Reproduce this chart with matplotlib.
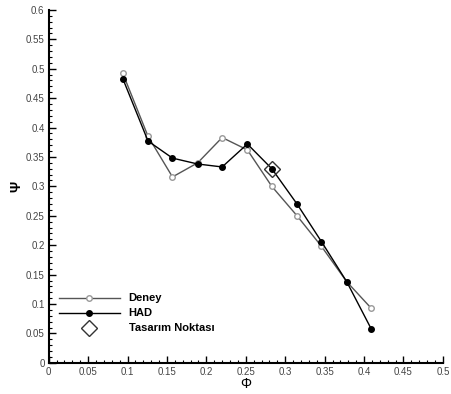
import matplotlib
matplotlib.use("Agg")
import matplotlib.pyplot as plt
from matplotlib.ticker import MultipleLocator

plt.rcParams['font.family'] = ['Liberation Sans', 'DejaVu Sans']

# debi katsayisi (Phi)
phi = [0.094, 0.126, 0.157, 0.189, 0.220, 0.252, 0.283, 0.315, 0.346, 0.378, 0.409]
# basma katsayisi (Psi)
psi_deney = [0.492, 0.385, 0.316, 0.340, 0.383, 0.362, 0.300, 0.250, 0.198, 0.138, 0.093]
psi_had = [0.483, 0.377, 0.348, 0.338, 0.333, 0.372, 0.330, 0.270, 0.206, 0.138, 0.058]
tasarim_phi = [0.283]
tasarim_psi = [0.330]

fig = plt.figure(figsize=(4.51, 3.94), dpi=100)
ax = fig.add_axes([0.108, 0.079, 0.874, 0.896])

ax.plot(phi, psi_deney, color="#555555", lw=1.0, marker="o", ms=4,
        mfc="white", mec="#999999", label="Deney")
ax.plot(phi, psi_had, color="black", lw=1.0, marker="o", ms=4,
        mfc="black", mec="black", label="HAD")
ax.plot(tasarim_phi, tasarim_psi, ls="none", marker="D", ms=8,
        mfc="none", mec="#333333", mew=1.0, label="Tasarım Noktası")

ax.set_xlim(0, 0.5)
ax.set_ylim(0, 0.6)
ax.xaxis.set_major_locator(MultipleLocator(0.05))
ax.xaxis.set_minor_locator(MultipleLocator(0.01))
ax.yaxis.set_major_locator(MultipleLocator(0.05))
ax.yaxis.set_minor_locator(MultipleLocator(0.01))

def fmt(v, pos):
    return "%g" % round(v, 2)
ax.xaxis.set_major_formatter(plt.FuncFormatter(fmt))
ax.yaxis.set_major_formatter(plt.FuncFormatter(fmt))

ax.spines["top"].set_visible(False)
ax.spines["right"].set_visible(False)
ax.spines["left"].set_linewidth(1.5)
ax.spines["bottom"].set_linewidth(1.5)
ax.tick_params(which="major", direction="in", length=5, width=1, labelsize=7,
               labelcolor="#444444", pad=3)
ax.tick_params(which="minor", direction="in", length=2.5, width=0.8)

ax.set_xlabel("Φ", fontsize=10, labelpad=0)
ax.set_ylabel("Ψ", fontsize=10, labelpad=2, fontweight="bold")

leg = ax.legend(loc="lower left", bbox_to_anchor=(0.0, 0.055), frameon=False,
                handlelength=5.5, handletextpad=0.8,
                labelspacing=0.45, prop={"weight": "bold", "size": 8})

fig.savefig("out.png", dpi=100)
